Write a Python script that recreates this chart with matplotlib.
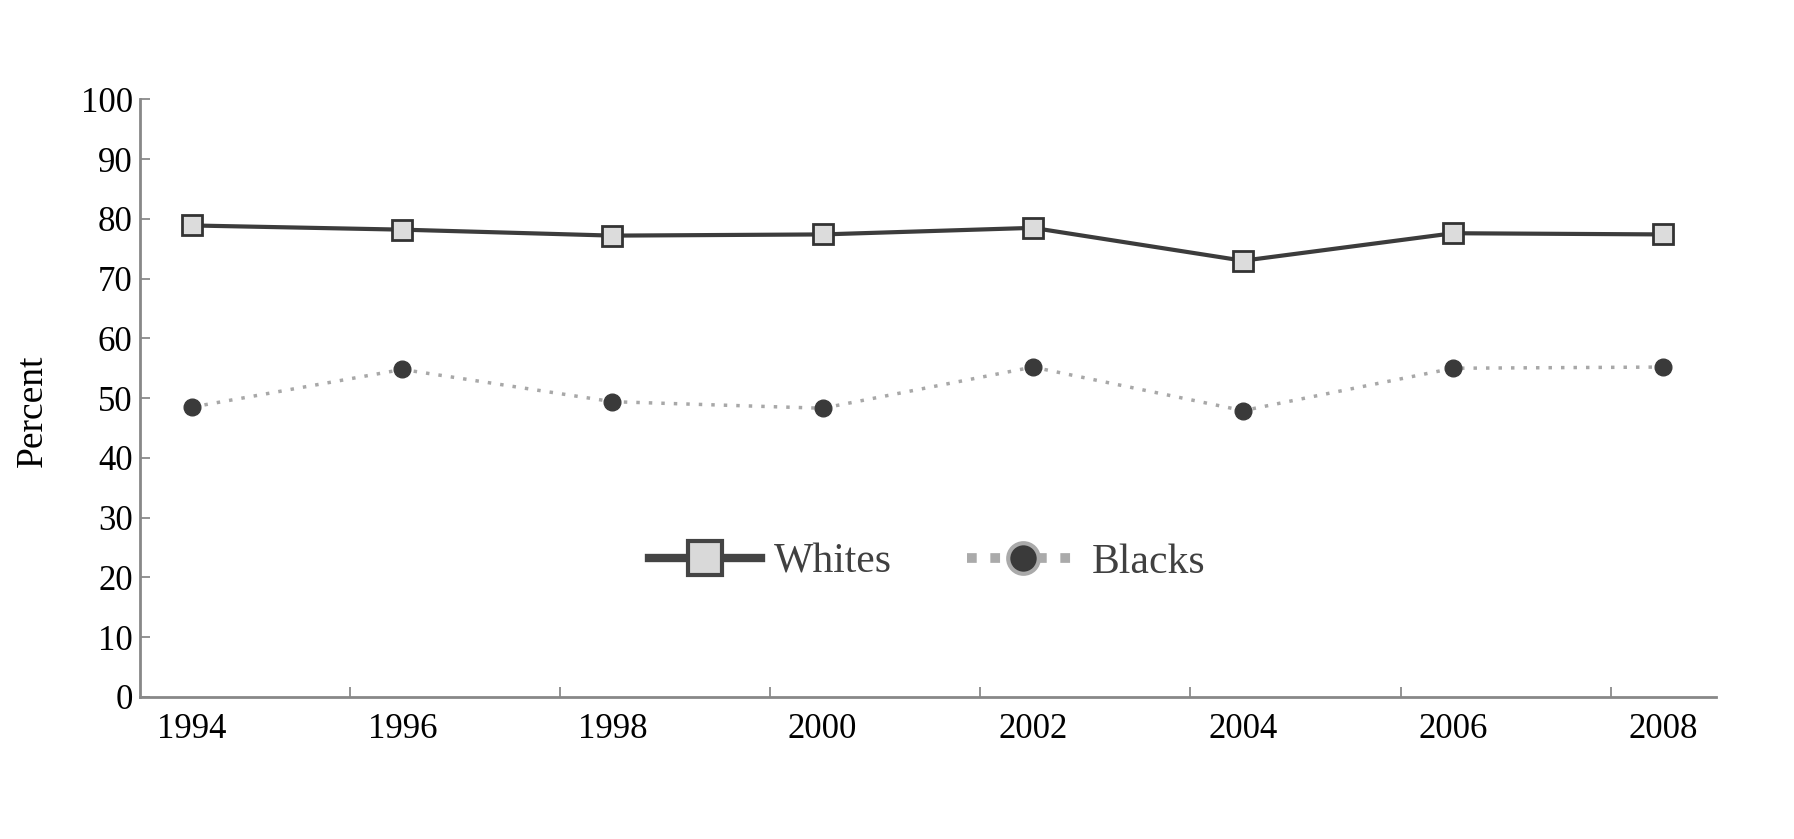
import matplotlib.pyplot as plt
from matplotlib.lines import Line2D
import numpy as np

years = ["1994", "1996", "1998", "2000", "2002", "2004", "2006", "2008"]
whites = [78.9, 78.2, 77.2, 77.4, 78.5, 73.0, 77.6, 77.4]
blacks = [48.5, 54.8, 49.4, 48.3, 55.2, 47.9, 55.0, 55.2]
yticks = [0, 10, 20, 30, 40, 50, 60, 70, 80, 90, 100]

plt.rcParams["font.family"] = ["Liberation Serif", "DejaVu Serif"]

fig = plt.figure(figsize=(17.94, 8.39), dpi=100)
ax = fig.add_axes([0.0778, 0.1695, 0.8787, 0.712])

# points sit a quarter of the way into each year slot
xs = np.arange(len(years)) + 0.25

ax.plot(xs, blacks, color="#a8a8a8", lw=2.5, ls=(0, (1, 2.6)),
        marker="o", ms=12, mfc="#3a3a3a", mec="#3a3a3a", zorder=2)
ax.plot(xs, whites, color="#3c3c3c", lw=3,
        marker="s", ms=14, mfc="#dcdcdc", mec="#333333", mew=2, zorder=3)

ax.set_xlim(0, 7.5)
ax.set_ylim(0, 100)

ax.set_xticks(np.arange(1, 8))
ax.set_xticklabels([])
ax.set_xticks(xs, minor=True)
ax.set_xticklabels(years, minor=True)
ax.tick_params(axis="x", which="major", direction="in", length=7, width=1.2, color="#808080")
ax.tick_params(axis="x", which="minor", length=0, pad=12, labelsize=25)

ax.set_yticks(yticks)
ax.tick_params(axis="y", direction="in", length=7, width=1.2, color="#808080", pad=5, labelsize=25)

for s in ["top", "right"]:
    ax.spines[s].set_visible(False)
for s in ["left", "bottom"]:
    ax.spines[s].set_color("#888888")
    ax.spines[s].set_linewidth(2)

fig.text(0.018, 0.51, "Percent", rotation=90, ha="center", va="center", fontsize=27)

h_white = Line2D([], [], color="#444444", lw=6, marker="s", ms=24,
                 mfc="#d9d9d9", mec="#444444", mew=3)
h_black = Line2D([], [], color="#aaaaaa", lw=7, ls=(0, (1, 1.4)), marker="o", ms=22,
                 mfc="#3a3a3a", mec="#aaaaaa", mew=3)
leg = ax.legend([h_white, h_black], ["Whites", "Blacks"], loc="center",
                bbox_to_anchor=(0.4995, 0.225), ncol=2, frameon=False, fontsize=30,
                handlelength=2.7, handletextpad=0.3, columnspacing=1.8)
for t in leg.get_texts():
    t.set_color("#404040")

fig.savefig("out.png", dpi=100)
